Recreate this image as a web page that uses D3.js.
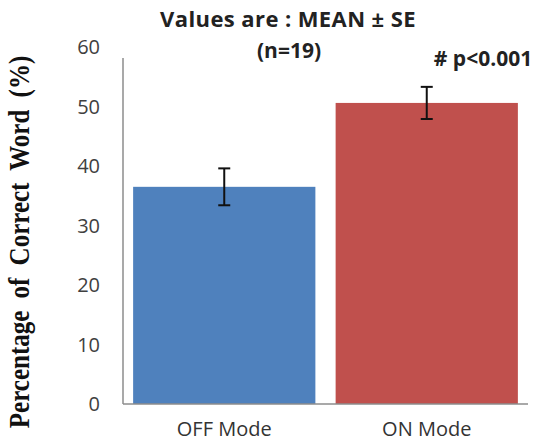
<!DOCTYPE html>
<html>
<head>
<meta charset="utf-8">
<script src="https://cdn.jsdelivr.net/npm/d3@7"></script>
<style>
  body { margin: 0; background: #fff; }
  svg text { font-family: "Open Sans", "Liberation Sans", sans-serif; }
</style>
</head>
<body>
<div id="chart"></div>
<script>
// data
var categories = ["OFF Mode", "ON Mode"];
var means = [36.5, 50.6];
var errors = [3.1, 2.7];
var barColors = ["#4F81BD", "#C0504D"];
var yTicks = [0, 10, 20, 30, 40, 50, 60];

var width = 539, height = 444;

var svg = d3.select("#chart").append("svg")
  .attr("width", width)
  .attr("height", height);

var x = d3.scaleBand()
  .domain(categories)
  .range([123, 528])
  .paddingInner(0.1)
  .paddingOuter(0.05);

var y = d3.scaleLinear()
  .domain([0, 60])
  .range([404, 47]);

// tick labels (no tick marks in the original)
svg.append("g")
  .selectAll("text")
  .data(yTicks)
  .enter().append("text")
  .attr("x", 100)
  .attr("y", function (d) { return y(d); })
  .attr("dy", "0.35em")
  .attr("text-anchor", "end")
  .style("font-size", "20px")
  .style("fill", "#404040")
  .text(function (d) { return d; });

// bars
svg.append("g")
  .selectAll("rect")
  .data(means)
  .enter().append("rect")
  .attr("x", function (d, i) { return x(categories[i]); })
  .attr("y", function (d) { return y(d); })
  .attr("width", x.bandwidth())
  .attr("height", function (d) { return y(0) - y(d); })
  .style("fill", function (d, i) { return barColors[i]; });

// axes lines
svg.append("line")
  .attr("x1", 123).attr("x2", 123)
  .attr("y1", 58).attr("y2", y(0))
  .style("stroke", "#8c8c8c").style("stroke-width", 1.5);
svg.append("line")
  .attr("x1", 123).attr("x2", 528)
  .attr("y1", y(0)).attr("y2", y(0))
  .style("stroke", "#8c8c8c").style("stroke-width", 1.5);

// error bars
var eb = svg.append("g").selectAll("g")
  .data(means)
  .enter().append("g")
  .attr("transform", function (d, i) {
    return "translate(" + (x(categories[i]) + x.bandwidth() / 2) + ",0)";
  });
eb.append("line")
  .attr("y1", function (d, i) { return y(d + errors[i]); })
  .attr("y2", function (d, i) { return y(d - errors[i]); })
  .style("stroke", "#111").style("stroke-width", 2);
eb.append("line")
  .attr("x1", -6).attr("x2", 6)
  .attr("y1", function (d, i) { return y(d + errors[i]); })
  .attr("y2", function (d, i) { return y(d + errors[i]); })
  .style("stroke", "#111").style("stroke-width", 2);
eb.append("line")
  .attr("x1", -6).attr("x2", 6)
  .attr("y1", function (d, i) { return y(d - errors[i]); })
  .attr("y2", function (d, i) { return y(d - errors[i]); })
  .style("stroke", "#111").style("stroke-width", 2);

// category labels
svg.append("g")
  .selectAll("text")
  .data(categories)
  .enter().append("text")
  .attr("x", function (d) { return x(d) + x.bandwidth() / 2; })
  .attr("y", 436)
  .attr("text-anchor", "middle")
  .style("font-size", "20px")
  .style("fill", "#333")
  .text(function (d) { return d; });

// titles
svg.append("text")
  .attr("x", 288).attr("y", 27)
  .attr("text-anchor", "middle")
  .style("font-size", "22px").style("font-weight", "bold").style("fill", "#222")
  .style("letter-spacing", "0.4px")
  .text("Values are : MEAN \u00B1 SE");
svg.append("text")
  .attr("x", 289).attr("y", 58)
  .attr("text-anchor", "middle")
  .style("font-size", "21px").style("font-weight", "bold").style("fill", "#222")
  .text("(n=19)");
svg.append("text")
  .attr("x", 483).attr("y", 66)
  .attr("text-anchor", "middle")
  .style("font-size", "21px").style("font-weight", "bold").style("fill", "#222")
  .text("# p<0.001");

// y axis title
svg.append("text")
  .attr("transform", "translate(29,242) rotate(-90) scale(1,1.2)")
  .attr("text-anchor", "middle")
  .style("font-family", "'Liberation Serif', 'DejaVu Serif', serif")
  .style("font-size", "25px").style("font-weight", "bold").style("fill", "#111")
  .style("word-spacing", "6px")
  .text("Percentage of Correct Word (%)");
</script>
</body>
</html>
